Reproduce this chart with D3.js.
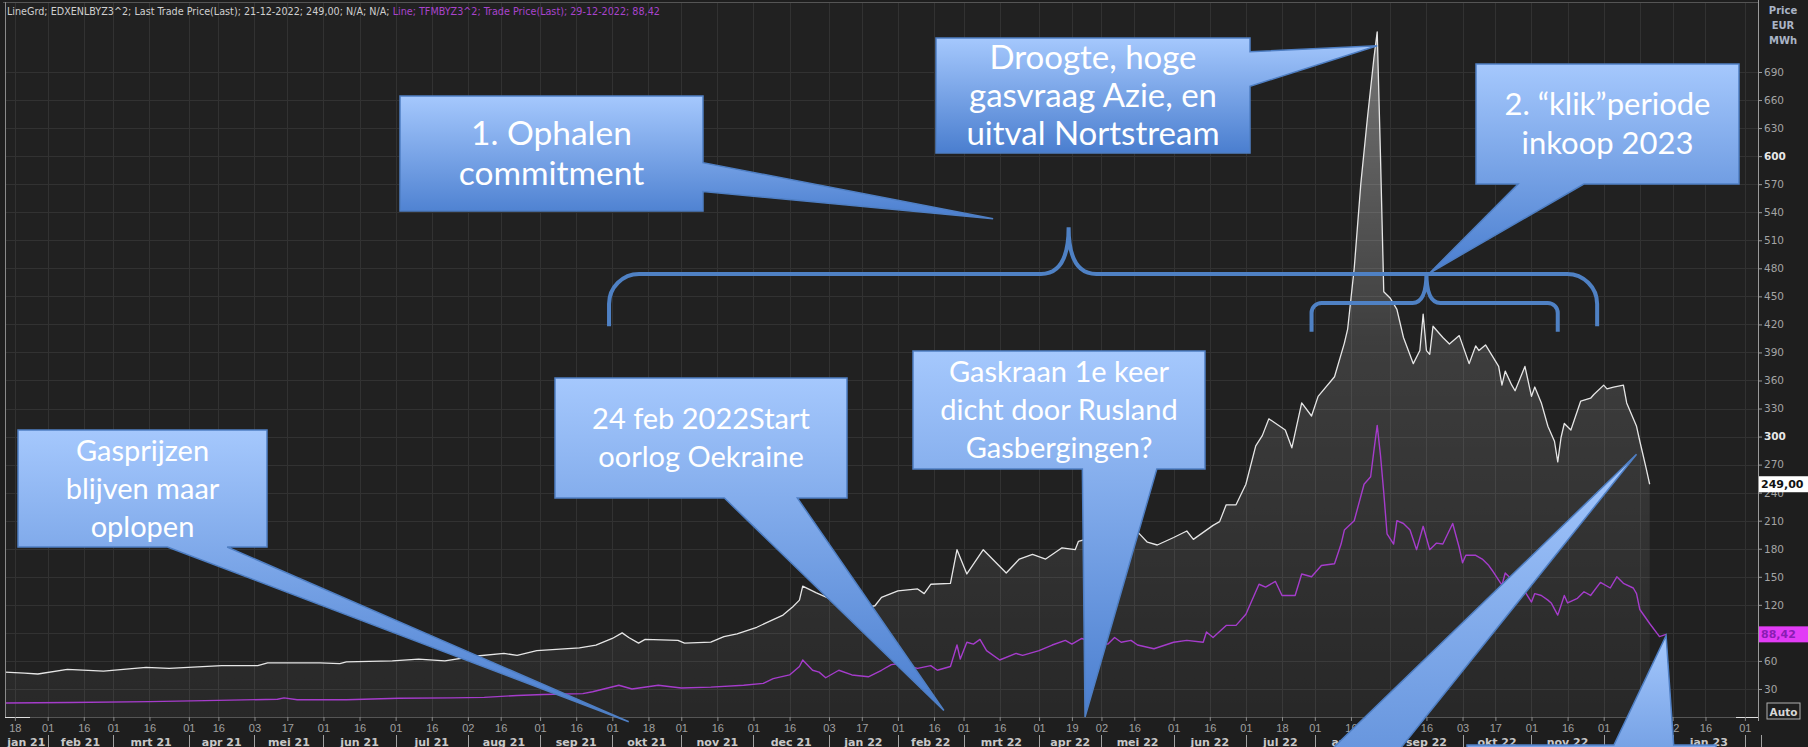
<!DOCTYPE html>
<html>
<head>
<meta charset="utf-8">
<script src="https://cdn.jsdelivr.net/npm/d3@7"></script>
<style>
  html, body { margin: 0; padding: 0; background: #1e1e1e; overflow: hidden; }
  svg { display: block; }
</style>
</head>
<body>
<svg id="chart" width="1808" height="747"></svg>
<script>
// ---- data ----
// EDXENLBYZ3^2 (Endex NL power base Cal-23), EUR/MWh
const powerSeries = [
  ["2021-01-13",48],["2021-01-21",47],["2021-01-27",46],["2021-02-09",51],["2021-02-24",49],
  ["2021-03-15",53],["2021-03-24",52],["2021-04-19",55],["2021-05-04",55],["2021-05-07",58],
  ["2021-05-31",58],["2021-06-08",57],["2021-06-10",59],["2021-06-30",60],["2021-07-12",62],
  ["2021-07-22",60],["2021-08-04",65],["2021-08-17",68],["2021-08-23",66],["2021-08-31",71],
  ["2021-09-17",74],["2021-09-24",77],["2021-10-01",84],["2021-10-06",90],["2021-10-08",85],
  ["2021-10-13",79],["2021-10-15",83],["2021-10-29",82],["2021-11-02",79],["2021-11-12",80],
  ["2021-11-18",86],["2021-11-24",89],["2021-12-02",96],["2021-12-14",109],["2021-12-17",118],
  ["2021-12-21",125],["2021-12-22",140],["2021-12-28",133],["2022-01-03",127],["2022-01-07",124],
  ["2022-01-12",121],["2022-01-18",117],["2022-01-21",119],["2022-01-25",128],["2022-02-01",135],
  ["2022-02-09",137],["2022-02-11",132],["2022-02-15",142],["2022-02-23",143],["2022-02-25",179],
  ["2022-03-02",153],["2022-03-09",179],["2022-03-18",154],["2022-03-24",169],["2022-03-30",174],
  ["2022-04-05",169],["2022-04-12",181],["2022-04-20",179],["2022-04-21",188],["2022-04-27",192],
  ["2022-05-04",198],["2022-05-11",203],["2022-05-17",198],["2022-05-20",187],["2022-05-25",184],
  ["2022-06-01",192],["2022-06-07",199],["2022-06-09",190],["2022-06-17",205],["2022-06-21",209],
  ["2022-06-23",227],["2022-06-28",227],["2022-07-01",249],["2022-07-06",290],["2022-07-08",301],
  ["2022-07-12",319],["2022-07-19",307],["2022-07-21",288],["2022-07-26",336],["2022-07-29",322],
  ["2022-08-02",343],["2022-08-09",364],["2022-08-12",400],["2022-08-15",415],["2022-08-17",480],
  ["2022-08-19",570],["2022-08-23",640],["2022-08-25",705],["2022-08-26",733],["2022-08-29",600],
  ["2022-08-30",455],["2022-09-01",448],["2022-09-05",436],["2022-09-07",406],["2022-09-12",378],
  ["2022-09-14",392],["2022-09-15",431],["2022-09-16",392],["2022-09-19",388],["2022-09-20",418],
  ["2022-09-23",406],["2022-09-27",399],["2022-09-30",408],["2022-10-05",378],["2022-10-07",397],
  ["2022-10-10",392],["2022-10-12",398],["2022-10-18",375],["2022-10-19",355],["2022-10-20",370],
  ["2022-10-24",355],["2022-10-25",349],["2022-10-28",375],["2022-11-01",343],["2022-11-02",353],
  ["2022-11-04",336],["2022-11-08",311],["2022-11-10",295],["2022-11-11",273],["2022-11-14",299],
  ["2022-11-15",314],["2022-11-17",307],["2022-11-22",338],["2022-11-25",341],["2022-11-28",345],
  ["2022-12-01",355],["2022-12-02",351],["2022-12-06",353],["2022-12-09",355],["2022-12-12",336],
  ["2022-12-15",311],["2022-12-16",295],["2022-12-19",280],["2022-12-20",265],["2022-12-21",249]
];

// TFMBYZ3^2 (TTF gas Cal-23), EUR/MWh
const gasSeries = [
  ["2021-01-13",15],["2021-02-10",15.5],["2021-03-16",16.5],["2021-04-12",17.5],["2021-05-12",19],
  ["2021-05-14",20.5],["2021-05-20",18.5],["2021-06-10",18.5],["2021-07-02",20],["2021-07-26",20.5],
  ["2021-08-09",21],["2021-08-23",23],["2021-09-02",24],["2021-09-20",25],["2021-09-23",27],
  ["2021-10-05",34],["2021-10-11",30],["2021-10-21",34],["2021-11-01",31],["2021-11-12",32],
  ["2021-11-26",34],["2021-12-06",36],["2021-12-09",41],["2021-12-16",45],["2021-12-21",54],
  ["2021-12-22",61],["2021-12-27",50],["2021-12-29",48],["2021-12-31",42],["2022-01-06",50],
  ["2022-01-12",45],["2022-01-19",43],["2022-01-25",50],["2022-01-28",56],["2022-02-01",57],
  ["2022-02-09",52],["2022-02-15",55],["2022-02-17",50],["2022-02-23",54],["2022-02-25",77],
  ["2022-02-28",62],["2022-03-02",80],["2022-03-04",78],["2022-03-08",83],["2022-03-10",71],
  ["2022-03-16",61],["2022-03-23",68],["2022-03-25",66],["2022-04-01",71],["2022-04-07",77],
  ["2022-04-13",82],["2022-04-19",78],["2022-04-22",84],["2022-04-28",80],["2022-05-04",78],
  ["2022-05-06",85],["2022-05-10",80],["2022-05-13",82],["2022-05-17",77],["2022-05-24",73],
  ["2022-06-01",80],["2022-06-07",82],["2022-06-14",80],["2022-06-15",91],["2022-06-17",85],
  ["2022-06-23",98],["2022-06-28",98],["2022-07-01",110],["2022-07-07",142],["2022-07-11",139],
  ["2022-07-14",145],["2022-07-18",130],["2022-07-22",130],["2022-07-26",153],["2022-07-29",150],
  ["2022-08-03",162],["2022-08-09",164],["2022-08-11",185],["2022-08-12",200],["2022-08-17",210],
  ["2022-08-22",249],["2022-08-24",257],["2022-08-25",285],["2022-08-26",312],["2022-08-29",280],
  ["2022-08-30",240],["2022-08-31",196],["2022-09-02",185],["2022-09-05",210],["2022-09-07",207],
  ["2022-09-09",200],["2022-09-13",179],["2022-09-15",204],["2022-09-19",179],["2022-09-21",186],
  ["2022-09-23",185],["2022-09-28",207],["2022-09-30",181],["2022-10-03",165],["2022-10-04",173],
  ["2022-10-07",173],["2022-10-11",169],["2022-10-13",162],["2022-10-14",157],["2022-10-19",141],
  ["2022-10-20",154],["2022-10-24",147],["2022-10-26",141],["2022-10-28",134],["2022-11-01",123],
  ["2022-11-02",132],["2022-11-04",130],["2022-11-08",125],["2022-11-09",122],["2022-11-11",109],
  ["2022-11-15",130],["2022-11-16",122],["2022-11-21",127],["2022-11-23",134],["2022-11-25",130],
  ["2022-11-30",144],["2022-12-05",138],["2022-12-07",150],["2022-12-09",143],["2022-12-14",138],
  ["2022-12-15",132],["2022-12-16",115],["2022-12-21",100],["2022-12-27",86],["2022-12-29",88.42]
];

// x axis: trading sessions, labelled ticks
const calendarStart = "2021-01-13";
const calendarEnd = "2023-02-07";
const holidays = ["2021-04-02","2021-04-05","2022-04-15","2022-04-18","2022-12-26"];
const xTickDates = [
  "2021-01-18","2021-02-01","2021-02-16","2021-03-01","2021-03-16","2021-04-01","2021-04-16",
  "2021-05-03","2021-05-17","2021-06-01","2021-06-16","2021-07-01","2021-07-16","2021-08-02",
  "2021-08-16","2021-09-01","2021-09-16","2021-10-01","2021-10-18","2021-11-01","2021-11-16",
  "2021-12-01","2021-12-16","2022-01-03","2022-01-17","2022-02-01","2022-02-16","2022-03-01",
  "2022-03-16","2022-04-01","2022-04-19","2022-05-02","2022-05-16","2022-06-01","2022-06-16",
  "2022-07-01","2022-07-18","2022-08-01","2022-08-16","2022-09-01","2022-09-16","2022-10-03",
  "2022-10-17","2022-11-01","2022-11-16","2022-12-01","2022-12-16","2023-01-02","2023-01-16",
  "2023-02-01"
];
const monthNames = ["jan","feb","mrt","apr","mei","jun","jul","aug","sep","okt","nov","dec"];
const yTicks = d3.range(30, 691, 30);
const yBoldTicks = [300, 600];
const axisTitle = ["Price", "EUR", "MWh"];

// annotations (boxes are page layout, tips/braces sit in data space)
const callouts = [
  { lines: ["Droogte, hoge", "gasvraag Azie, en", "uitval Nortstream"], box: [936, 38, 314, 115], side: "right", base: [0.12, 0.42], tip: ["2022-08-26", 718], size: 33, gap: 38 },
  { lines: ["2. \u201Cklik\u201Dperiode", "inkoop 2023"], box: [1476, 64, 263, 120], side: "bottom", base: [0.16, 0.41], tip: ["2022-09-19", 475], size: 31, gap: 39 },
  { lines: ["1. Ophalen", "commitment"], box: [400, 96, 303, 115], side: "right", base: [0.58, 0.83], tip: ["2022-03-14", 533], size: 33.5, gap: 40 },
  { lines: ["Gasprijzen", "blijven maar", "oplopen"], box: [18, 430, 249, 117], side: "bottom", base: [0.6, 0.84], tip: ["2021-10-08", -5], size: 29, gap: 38 },
  { lines: ["24 feb 2022Start", "oorlog Oekraine"], box: [555, 378, 292, 120], side: "bottom", base: [0.58, 0.83], tip: ["2022-02-21", 7], size: 29, gap: 38 },
  { lines: ["Gaskraan 1e keer", "dicht door Rusland", "Gasbergingen?"], box: [913, 351, 292, 118], side: "bottom", base: [0.58, 0.835], tip: ["2022-04-25", 0], size: 29, gap: 38 },
  { lines: [], box: [1180, 780, 300, 110], side: "top", base: [0.4, 0.65], tip: ["2022-12-15", 281], size: 29, gap: 38 },
  { lines: [], box: [1467, 745, 249, 110], side: "top", base: [0.59, 0.83], tip: ["2022-12-29", 87], size: 29, gap: 38 }
];
const braces = [
  { from: "2021-09-30", to: "2022-11-29", mid: "2022-04-14", end: 418, line: 474, peak: 524, r: 30, cusp: 12 },
  { from: "2022-07-29", to: "2022-11-11", mid: "2022-09-16", end: 412, line: 443, peak: 475, r: 10, cusp: 6 }
];

// ---- layout ----
const W = 1808, H = 747;
const plot = { left: 5, right: 1758, top: 3, bottom: 717 };
const uiFont = "DejaVu Sans, Verdana, sans-serif";
const svg = d3.select("#chart");

const parseDate = d3.utcParse("%Y-%m-%d");
const fmtKey = d3.utcFormat("%Y-%m-%d");
const holidaySet = new Set(holidays);
const tradingDays = d3.utcDays(parseDate(calendarStart), d3.utcDay.offset(parseDate(calendarEnd), 1))
  .filter(d => d.getUTCDay() !== 0 && d.getUTCDay() !== 6 && !holidaySet.has(fmtKey(d)));
const dayIndex = d => d3.bisectLeft(tradingDays, d);

const x = d3.scaleLinear().domain([0, tradingDays.length - 1]).range([plot.left, plot.right]);
const xDate = s => x(dayIndex(parseDate(s)));
const y = d3.scaleLinear().domain([0, 690]).range([717, 72]);

svg.append("rect").attr("width", W).attr("height", H).attr("fill", "#1e1e1e");
svg.append("rect").attr("x", plot.left).attr("y", plot.top)
  .attr("width", plot.right - plot.left).attr("height", plot.bottom - plot.top).attr("fill", "#212121");

const defs = svg.append("defs");
const areaGrad = defs.append("linearGradient").attr("id", "areaGrad")
  .attr("gradientUnits", "userSpaceOnUse").attr("x1", 0).attr("y1", 30).attr("x2", 0).attr("y2", plot.bottom);
areaGrad.append("stop").attr("offset", 0).attr("stop-color", "#ffffff").attr("stop-opacity", 0.38);
areaGrad.append("stop").attr("offset", 0.45).attr("stop-color", "#ffffff").attr("stop-opacity", 0.13);
areaGrad.append("stop").attr("offset", 1).attr("stop-color", "#ffffff").attr("stop-opacity", 0.03);
const boxGrad = defs.append("linearGradient").attr("id", "boxGrad").attr("x1", 0).attr("y1", 0).attr("x2", 0).attr("y2", 1);
boxGrad.append("stop").attr("offset", 0).attr("stop-color", "#a5c8fd");
boxGrad.append("stop").attr("offset", 1).attr("stop-color", "#4a7ecf");

// grid
const tickIdx = xTickDates.map(s => dayIndex(parseDate(s)));
const grid = svg.append("g").attr("stroke", "#323232").attr("stroke-width", 1);
grid.selectAll(".hg").data(yTicks).join("line")
  .attr("x1", plot.left).attr("x2", plot.right)
  .attr("y1", d => Math.round(y(d)) + 0.5).attr("y2", d => Math.round(y(d)) + 0.5);
grid.selectAll(".vg").data(tickIdx).join("line")
  .attr("x1", d => Math.round(x(d)) + 0.5).attr("x2", d => Math.round(x(d)) + 0.5)
  .attr("y1", plot.top).attr("y2", plot.bottom);

// area + lines
const area = d3.area().x(d => xDate(d[0])).y0(y(0)).y1(d => y(d[1]));
const line = d3.line().x(d => xDate(d[0])).y(d => y(d[1]));
svg.append("path").datum(powerSeries).attr("d", area).attr("fill", "url(#areaGrad)");
svg.append("path").datum(gasSeries).attr("d", line)
  .attr("fill", "none").attr("stroke", "#a53ccb").attr("stroke-width", 1.4).attr("stroke-linejoin", "round");
svg.append("path").datum(powerSeries).attr("d", line)
  .attr("fill", "none").attr("stroke", "#e6e6e6").attr("stroke-width", 1.3).attr("stroke-linejoin", "round");

// frame
const frame = svg.append("g").attr("fill", "none");
frame.append("line").attr("x1", 3).attr("x2", plot.right).attr("y1", 2.5).attr("y2", 2.5).attr("stroke", "#555");
frame.append("line").attr("x1", plot.left + 0.5).attr("x2", plot.left + 0.5).attr("y1", 2).attr("y2", plot.bottom).attr("stroke", "#8a8a8a");
frame.append("line").attr("x1", plot.left).attr("x2", plot.right).attr("y1", plot.bottom + 0.5).attr("y2", plot.bottom + 0.5).attr("stroke", "#555");
frame.append("line").attr("x1", plot.left).attr("x2", plot.left + 25).attr("y1", plot.bottom + 0.5).attr("y2", plot.bottom + 0.5).attr("stroke", "#e0e0e0");
frame.append("line").attr("x1", plot.right - 22).attr("x2", plot.right).attr("y1", plot.bottom + 0.5).attr("y2", plot.bottom + 0.5).attr("stroke", "#e0e0e0");

// header
const lastP = powerSeries[powerSeries.length - 1], lastG = gasSeries[gasSeries.length - 1];
const fmtDate = s => d3.utcFormat("%d-%m-%Y")(parseDate(s));
const fmtVal = v => d3.format(".2f")(v).replace(".", ",");
const header = svg.append("text").attr("x", 7).attr("y", 15)
  .attr("font-family", "'DejaVu Sans Condensed', 'DejaVu Sans', sans-serif")
  .attr("font-stretch", "condensed").attr("font-size", 10.7);
header.append("tspan").attr("fill", "#cfcfcf")
  .text(`LineGrd; EDXENLBYZ3^2; Last Trade Price(Last); ${fmtDate(lastP[0])}; ${fmtVal(lastP[1])}; N/A; N/A; `);
header.append("tspan").attr("fill", "#a944cc")
  .text(`Line; TFMBYZ3^2; Trade Price(Last); ${fmtDate(lastG[0])}; ${fmtVal(lastG[1])}`);

// last value tags
const tags = [
  { v: lastP[1], bg: "#ffffff", fg: "#111111" },
  { v: lastG[1], bg: "#e23cf6", fg: "#8a1db4" }
];
const tagY = tags.map(t => y(t.v));

// y axis (right)
const yAxis = svg.append("g").attr("transform", `translate(${plot.right},0)`)
  .call(d3.axisRight(y).tickValues(yTicks).tickSize(4).tickPadding(2));
yAxis.select(".domain").remove();
yAxis.append("line").attr("x1", 0.5).attr("x2", 0.5).attr("y1", 0).attr("y2", plot.bottom + 4).attr("stroke", "#9a9a9a");
yAxis.selectAll(".tick line").attr("stroke", "#9a9a9a");
yAxis.selectAll(".tick text")
  .attr("font-family", uiFont).attr("font-size", 10.5)
  .attr("fill", d => yBoldTicks.includes(d) ? "#e8e8e8" : "#a4a4a4")
  .attr("font-weight", d => yBoldTicks.includes(d) ? "bold" : "normal")
  .attr("display", d => tagY.some(t => Math.abs(t - y(d)) < 4) ? "none" : null);
svg.append("g").selectAll("text").data(axisTitle).join("text")
  .attr("x", 1783).attr("y", (d, i) => 14 + i * 15).attr("text-anchor", "middle")
  .attr("font-family", uiFont).attr("font-size", 10).attr("font-weight", "bold")
  .attr("fill", "#aab4c6").text(d => d);

const tagG = svg.append("g").selectAll("g").data(tags).join("g")
  .attr("transform", d => `translate(${plot.right + 1},${y(d.v)})`);
tagG.append("rect").attr("x", 0).attr("y", -8).attr("width", W - plot.right).attr("height", 16).attr("fill", d => d.bg);
tagG.append("text").attr("x", 2).attr("dy", "0.36em")
  .attr("font-family", uiFont).attr("font-size", 11).attr("font-weight", "bold")
  .attr("fill", d => d.fg).text(d => fmtVal(d.v));

// Auto button
const auto = svg.append("g").attr("transform", "translate(1767,703)");
auto.append("rect").attr("width", 33).attr("height", 16).attr("fill", "#1e1e1e").attr("stroke", "#b0b0b0");
auto.append("text").attr("x", 16.5).attr("y", 12.5).attr("text-anchor", "middle")
  .attr("font-family", uiFont).attr("font-size", 10.5).attr("font-weight", "bold")
  .attr("fill", "#d8d8d8").text("Auto");

// x axis: day row
const xAxis = svg.append("g").attr("transform", `translate(0,${plot.bottom})`)
  .call(d3.axisBottom(x).tickValues(tickIdx).tickSize(4).tickPadding(3)
    .tickFormat(i => d3.utcFormat("%d")(tradingDays[i])));
xAxis.select(".domain").remove();
xAxis.selectAll(".tick line").attr("stroke", "#8a8a8a");
xAxis.selectAll(".tick text").attr("font-family", "Liberation Sans, Arial, sans-serif")
  .attr("font-size", 11).attr("fill", "#a0a0a0");

// x axis: month row
const months = d3.utcMonths(d3.utcMonth.floor(tradingDays[0]), d3.utcMonth.offset(tradingDays[tradingDays.length - 1], 1));
const monthRow = months.map(m => {
  const s = Math.max(plot.left, x(dayIndex(m)));
  const eIdx = dayIndex(d3.utcMonth.offset(m, 1));
  const e = eIdx >= tradingDays.length ? plot.right : x(eIdx);
  return { m, s, e, first: dayIndex(m) === 0 };
});
const mg = svg.append("g");
mg.selectAll("line").data(monthRow.filter(d => !d.first)).join("line")
  .attr("x1", d => Math.round(d.s) + 0.5).attr("x2", d => Math.round(d.s) + 0.5)
  .attr("y1", 735).attr("y2", 747).attr("stroke", "#a0a0a0");
mg.selectAll("text").data(monthRow.filter(d => d.e - d.s > 40)).join("text")
  .attr("x", d => (d.s + d.e) / 2).attr("y", 745.5).attr("text-anchor", "middle")
  .attr("font-family", uiFont).attr("font-size", 11).attr("font-weight", "bold")
  .attr("fill", "#c8c8c8")
  .text(d => `${monthNames[d.m.getUTCMonth()]} ${d3.utcFormat("%y")(d.m)}`);

// braces
const braceG = svg.append("g").attr("fill", "none").attr("stroke", "#4f81c4").attr("stroke-width", 4);
braceG.selectAll("path").data(braces).join("path").attr("d", b => {
  const x0 = xDate(b.from), x1 = xDate(b.to), xm = xDate(b.mid);
  const ye = y(b.end), yl = y(b.line), yp = y(b.peak), r = b.r, c = b.cusp;
  const p = d3.path();
  p.moveTo(x0, ye);
  p.lineTo(x0, yl + r);
  p.bezierCurveTo(x0, yl + r * 0.45, x0 + r * 0.45, yl, x0 + r, yl);
  p.lineTo(xm - 2.3 * c, yl);
  p.bezierCurveTo(xm - c, yl, xm, yl - c, xm, yp);
  p.bezierCurveTo(xm, yl - c, xm + c, yl, xm + 2.3 * c, yl);
  p.lineTo(x1 - r, yl);
  p.bezierCurveTo(x1 - r * 0.45, yl, x1, yl + r * 0.45, x1, yl + r);
  p.lineTo(x1, ye);
  return p.toString();
});

// callouts
function calloutPath(c) {
  const [bx, by, bw, bh] = c.box;
  const tx = xDate(c.tip[0]), ty = y(c.tip[1]);
  const [f0, f1] = c.base;
  const pts = [[bx, by]];
  if (c.side === "top") pts.push([bx + f0 * bw, by], [tx, ty], [bx + f1 * bw, by]);
  pts.push([bx + bw, by]);
  if (c.side === "right") pts.push([bx + bw, by + f0 * bh], [tx, ty], [bx + bw, by + f1 * bh]);
  pts.push([bx + bw, by + bh]);
  if (c.side === "bottom") pts.push([bx + f1 * bw, by + bh], [tx, ty], [bx + f0 * bw, by + bh]);
  pts.push([bx, by + bh]);
  return "M" + pts.map(p => p.join(",")).join("L") + "Z";
}
const cg = svg.append("g").selectAll("g").data(callouts).join("g");
cg.append("path").attr("d", calloutPath)
  .attr("fill", "url(#boxGrad)").attr("stroke", "#4f7fc4").attr("stroke-width", 1.5);
cg.each(function (c) {
  const [bx, by, bw, bh] = c.box;
  const n = c.lines.length;
  d3.select(this).selectAll("text").data(c.lines).join("text")
    .attr("x", bx + bw / 2)
    .attr("y", (d, i) => by + bh / 2 + (i - (n - 1) / 2) * c.gap)
    .attr("dy", "0.35em").attr("text-anchor", "middle")
    .attr("font-family", "Lato, 'Open Sans', sans-serif").attr("font-size", c.size)
    .attr("fill", "#ffffff").text(d => d);
});
</script>
</body>
</html>
